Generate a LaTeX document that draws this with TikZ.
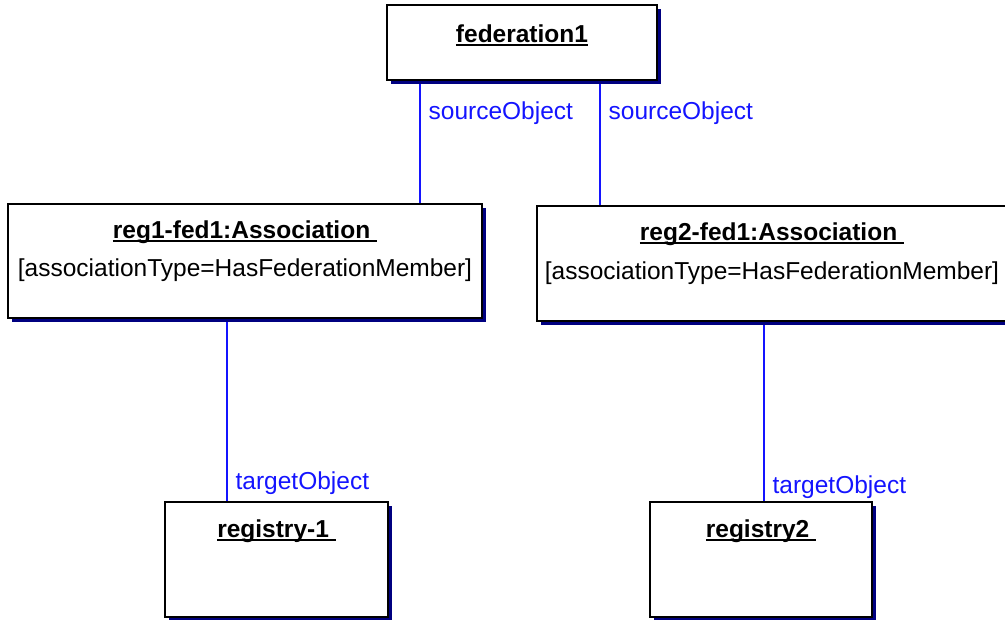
\documentclass[tikz,border=0pt]{standalone}
\usepackage{fontspec}
\setmainfont{Liberation Sans}
\usetikzlibrary{shadows,backgrounds,positioning}
\definecolor{shadownavy}{RGB}{0,0,128}
\definecolor{linkblue}{RGB}{20,20,255}
\newcommand{\objtitle}[1]{\setbox0=\hbox{\bfseries #1}\rlap{\rule[-3.5pt]{\wd0}{2pt}}\box0}

\begin{document}
\begin{tikzpicture}[x=1pt,y=-1pt,
    object/.style={draw=black,line width=1.6pt,fill=white,inner sep=0pt,
      drop shadow={shadow xshift=4pt,shadow yshift=-4pt,fill=shadownavy,opacity=1}},
    objtext/.style={inner sep=0pt,anchor=base,font=\fontsize{24.5}{29}\selectfont},
    link/.style={draw=linkblue,line width=1.3pt},
    role/.style={text=linkblue,inner sep=0pt,anchor=base west,xshift=8pt,
      font=\fontsize{24.5}{29}\selectfont}]
  \clip (0,0) rectangle (1005,620);
  % objects
  \node[object,minimum width=270pt,minimum height=75pt] (fed) at (522,42.5) {};
  \node[object,minimum width=474pt,minimum height=114pt] (reg1fed) at (245,261) {};
  \node[object,minimum width=470pt,minimum height=115pt] (reg2fed) at (772,263.5) {};
  \node[object,minimum width=223pt,minimum height=115pt] (registry1) at (276.5,559.5) {};
  \node[object,minimum width=222pt,minimum height=115pt] (registry2) at (761,559.5) {};
  % names and slots
  \node[objtext] (fedname) at ([yshift=-38pt]fed.north) {\objtitle{federation1}};
  \node[objtext] (reg1name) at ([yshift=-35pt]reg1fed.north) {\objtitle{reg1-fed1:Association\ }};
  \node[objtext] (reg1slot) at ([yshift=-73pt]reg1fed.north) {[associationType=HasFederationMember]};
  \node[objtext] (reg2name) at ([yshift=-35pt]reg2fed.north) {\objtitle{reg2-fed1:Association\ }};
  \node[objtext] (reg2slot) at ([yshift=-74pt]reg2fed.north) {[associationType=HasFederationMember]};
  \node[objtext] (registry1name) at ([yshift=-36pt]registry1.north) {\objtitle{registry-1\ }};
  \node[objtext] (registry2name) at ([yshift=-36pt]registry2.north) {\objtitle{registry2\ }};
  % links
  \coordinate (src1) at (420,0);
  \coordinate (src2) at (600,0);
  \coordinate (tgt1) at (227,0);
  \coordinate (tgt2) at (764,0);
  \begin{scope}[on background layer]
    \draw[link] (src1 |- fed.south) -- (src1 |- reg1fed.north) node[role,pos=0.315] {sourceObject};
    \draw[link] (src2 |- fed.south) -- (src2 |- reg2fed.north) node[role,pos=0.31] {sourceObject};
    \draw[link] (tgt1 |- reg1fed.south) -- (tgt1 |- registry1.north) node[role,pos=0.935] {targetObject};
    \draw[link] (tgt2 |- reg2fed.south) -- (tgt2 |- registry2.north) node[role,pos=0.957] {targetObject};
  \end{scope}
\end{tikzpicture}
\end{document}
